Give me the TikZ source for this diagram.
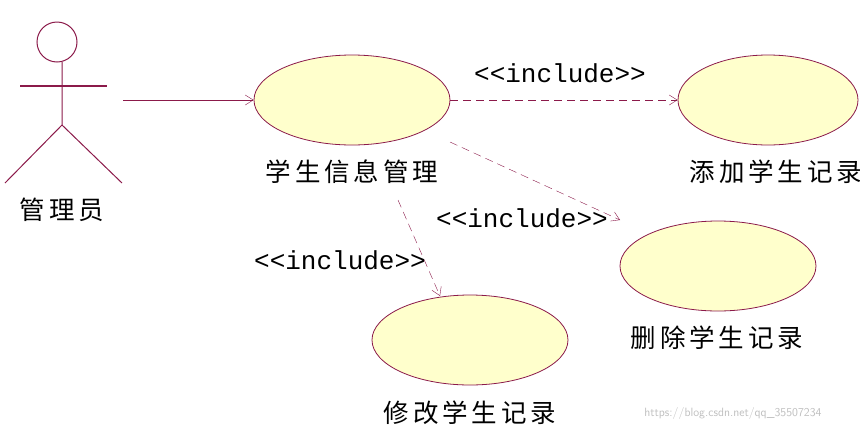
\documentclass[tikz,border=0pt]{standalone}
\usepackage{fontspec}
\newfontfamily\cjk[LetterSpace=15]{Noto Sans CJK SC}
\newfontfamily\mono{Liberation Mono}
\usetikzlibrary{arrows.meta,shapes.geometric}
\definecolor{mar}{HTML}{8B1A4A}
\definecolor{uc}{HTML}{FFFFCC}
\begin{document}
\begin{tikzpicture}[x=1pt,y=-1pt,
  usecase/.style={ellipse,draw=mar,fill=uc,line width=0.8pt,minimum width=196pt,minimum height=90pt,inner sep=0},
  lbl/.style={font=\cjk\fontsize{25.5}{28}\selectfont},
  inc/.style={font=\mono\fontsize{26}{28}\selectfont},
  dep/.style={draw=mar,dashed,dash pattern=on 8pt off 5pt,-{Straight Barb[length=8pt,width=10pt]}},
  assoc/.style={draw=mar,-{Straight Barb[length=8pt,width=10pt]}}]
\useasboundingbox (0,0) rectangle (860,432);
% actor
\draw[mar,line width=1pt] (57,42) circle (20);
\draw[mar,line width=2.4pt] (20,86) -- (107,86);
\draw[mar,line width=1pt] (62,62) -- (62,125) -- (5,183);
\draw[mar,line width=1pt] (62,125) -- (122,183);
\node[lbl] (actor) at (62,210) {管理员};
\coordinate (ahand) at (123,100);
% use cases
\node[usecase] (m) at (352,100) {};
\node[usecase,minimum width=180pt] (a) at (768,100) {};
\node[usecase] (d) at (718,266) {};
\node[usecase] (x) at (470,340) {};
\node[lbl] at (352,172) {学生信息管理};
\node[lbl] at (776,172) {添加学生记录};
\node[lbl] at (717,338) {删除学生记录};
\node[lbl] at (470,413) {修改学生记录};
\draw[assoc] (ahand) -- (m);
\draw[dep] (m.east) -- (a.west);
\draw[dep] (450,142) -- (620,220);
\draw[dep] (398,200) -- (440,296);
\node[inc] at (560,73) {<<include>>};
\node[inc] at (522,218) {<<include>>};
\node[inc] at (340,260) {<<include>>};
\node[font=\sffamily\fontsize{12}{14}\selectfont,text=black!25] at (733,413) {https://blog.csdn.net/qq\_35507234};
\end{tikzpicture}
\end{document}
